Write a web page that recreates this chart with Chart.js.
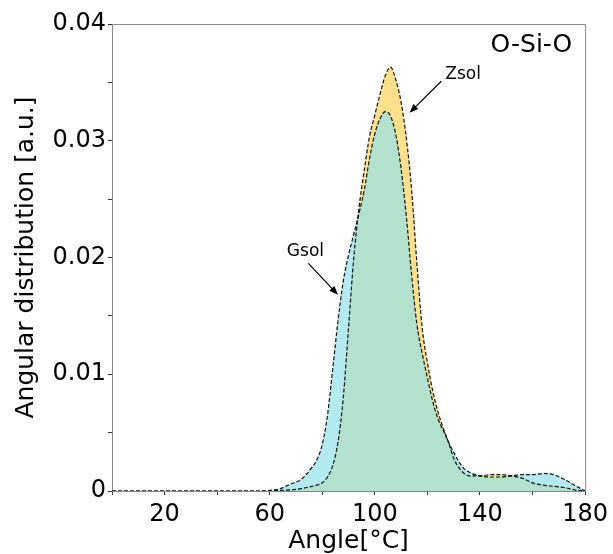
<!DOCTYPE html>
<html>
<head>
<meta charset="utf-8">
<script src="https://cdn.jsdelivr.net/npm/chart.js@4"></script>
<style>
  html, body { margin: 0; padding: 0; background: #fff; }
  canvas { display: block; }
</style>
</head>
<body>
<canvas id="chart" width="613" height="554"></canvas>
<script>
const angles = [0, 20, 40, 50, 56, 60, 64, 68, 72, 76, 78, 80, 82, 84, 86, 88, 90, 92, 94, 96, 98,
  100, 102, 104, 106, 108, 110, 112, 114, 116, 118, 120, 122, 124, 126, 128, 130, 132, 134, 136,
  140, 144, 148, 152, 156, 160, 164, 168, 172, 176, 180];

const gsol = [0, 0, 0, 0, 0, 0.00005, 0.0002, 0.0006, 0.001, 0.002, 0.0027, 0.004, 0.0065, 0.0105,
  0.0146, 0.018, 0.0202, 0.022, 0.0238, 0.0258, 0.0285,
  0.0306, 0.0319, 0.0325, 0.0321, 0.0305, 0.0276, 0.0235, 0.0185, 0.0143, 0.0118, 0.0097, 0.0077,
  0.0062, 0.0052, 0.0042, 0.0033, 0.0025, 0.0019, 0.0016,
  0.0013, 0.0012, 0.0012, 0.0013, 0.0014, 0.0014, 0.0015, 0.0014, 0.001, 0.0005, 0];

const zsol = [0, 0, 0, 0, 0, 0, 0.00005, 0.0001, 0.0002, 0.0004, 0.0005, 0.0007, 0.0012, 0.0022,
  0.0042, 0.008, 0.014, 0.02, 0.0243, 0.0275, 0.0304,
  0.0322, 0.034, 0.0356, 0.0363, 0.0352, 0.0333, 0.0302, 0.0258, 0.0195, 0.014, 0.011, 0.0086,
  0.0068, 0.0054, 0.0042, 0.0028, 0.002, 0.0015, 0.0013,
  0.0013, 0.0014, 0.0014, 0.0013, 0.0011, 0.0007, 0.0005, 0.0004, 0.0003, 0.0001, 0];

const xTickValues = [20, 60, 100, 140, 180];
const xTickLabels = ['20', '60', '100', '140', '180'];
const yTickValues = [0, 0.01, 0.02, 0.03, 0.04];
const yTickLabels = ['0', '0.01', '0.02', '0.03', '0.04'];

const FONT = 'DejaVu Sans';

function pick(values, labels, v) {
  const i = values.findIndex(t => Math.abs(t - v) < 1e-9);
  return i >= 0 ? labels[i] : '';
}

// frame (top + right spines) and the text annotations
const extras = {
  id: 'extras',
  afterDatasetsDraw(chart) {
    const { ctx, chartArea: a, scales: { x, y } } = chart;
    ctx.save();
    ctx.strokeStyle = '#888';
    ctx.lineWidth = 1;
    ctx.beginPath();
    ctx.moveTo(a.left, a.top + 0.5);
    ctx.lineTo(a.right + 0.5, a.top + 0.5);
    ctx.lineTo(a.right + 0.5, a.bottom);
    ctx.stroke();

    ctx.fillStyle = '#000';
    ctx.font = '25px "' + FONT + '"';
    ctx.textAlign = 'right';
    ctx.textBaseline = 'middle';
    ctx.fillText('O-Si-O', x.getPixelForValue(175.1), y.getPixelForValue(0.0382));

    ctx.font = '17px "' + FONT + '"';
    ctx.textAlign = 'center';
    ctx.fillText('Zsol', x.getPixelForValue(133.6), y.getPixelForValue(0.0357));
    ctx.fillText('Gsol', x.getPixelForValue(73.6), y.getPixelForValue(0.0205));

    arrow(ctx, x.getPixelForValue(125.3), y.getPixelForValue(0.0351),
      x.getPixelForValue(113.2), y.getPixelForValue(0.0324));
    arrow(ctx, x.getPixelForValue(74.7), y.getPixelForValue(0.0195),
      x.getPixelForValue(86), y.getPixelForValue(0.0168));
    ctx.restore();
  }
};

function arrow(ctx, x1, y1, x2, y2) {
  const ang = Math.atan2(y2 - y1, x2 - x1);
  const len = 9, w = 3.5;
  ctx.strokeStyle = '#000';
  ctx.lineWidth = 1.2;
  ctx.beginPath();
  ctx.moveTo(x1, y1);
  ctx.lineTo(x2 - Math.cos(ang) * len * 0.8, y2 - Math.sin(ang) * len * 0.8);
  ctx.stroke();
  ctx.beginPath();
  ctx.moveTo(x2, y2);
  ctx.lineTo(x2 - Math.cos(ang) * len - Math.sin(ang) * w, y2 - Math.sin(ang) * len + Math.cos(ang) * w);
  ctx.lineTo(x2 - Math.cos(ang) * len + Math.sin(ang) * w, y2 - Math.sin(ang) * len - Math.cos(ang) * w);
  ctx.closePath();
  ctx.fillStyle = '#000';
  ctx.fill();
}

const ctx = document.getElementById('chart');

new Chart(ctx, {
  type: 'line',
  data: {
    datasets: [
      {
        label: 'Gsol',
        data: angles.map((a, i) => ({ x: a, y: gsol[i] })),
        borderColor: '#111',
        borderWidth: 1.2,
        borderDash: [4, 2],
        backgroundColor: 'rgba(145,225,234,0.7)',
        fill: 'origin',
        pointRadius: 0,
        cubicInterpolationMode: 'monotone'
      },
      {
        label: 'Zsol',
        data: angles.map((a, i) => ({ x: a, y: zsol[i] })),
        borderColor: '#111',
        borderWidth: 1.2,
        borderDash: [4, 2],
        backgroundColor: 'rgb(255,224,138)',
        fill: 'origin',
        pointRadius: 0,
        cubicInterpolationMode: 'monotone'
      }
    ]
  },
  options: {
    responsive: false,
    animation: false,
    layout: { padding: { top: 24, right: 24, left: 0, bottom: 0 } },
    plugins: {
      legend: { display: false },
      tooltip: { enabled: false },
      filler: { drawTime: 'beforeDatasetsDraw' }
    },
    scales: {
      x: {
        type: 'linear',
        min: 0,
        max: 180,
        afterFit: s => { s.height = 63; },
        border: { display: true, color: '#888', width: 1 },
        grid: { drawOnChartArea: false, drawTicks: true, tickLength: 4, tickColor: '#333' },
        ticks: {
          stepSize: 20,
          autoSkip: false,
          maxRotation: 0,
          padding: 5,
          color: '#000',
          font: { family: FONT, size: 24 },
          callback: v => pick(xTickValues, xTickLabels, v)
        },
        title: {
          display: true,
          text: 'Angle[°C]',
          color: '#000',
          font: { family: FONT, size: 25, lineHeight: 1.0 },
          padding: { top: 0, bottom: 0 }
        }
      },
      y: {
        min: 0,
        max: 0.04,
        afterFit: s => { s.width = 112; },
        border: { display: true, color: '#888', width: 1 },
        grid: { drawOnChartArea: false, drawTicks: true, tickLength: 4, tickColor: '#333' },
        ticks: {
          stepSize: 0.005,
          autoSkip: false,
          padding: 2,
          color: '#000',
          font: { family: FONT, size: 24 },
          callback: v => pick(yTickValues, yTickLabels, v)
        },
        title: {
          display: true,
          text: 'Angular distribution [a.u.]',
          color: '#000',
          font: { family: FONT, size: 25, lineHeight: 1.15 },
          padding: { top: 12, bottom: 0 }
        }
      }
    }
  },
  plugins: [extras]
});
</script>
</body>
</html>
